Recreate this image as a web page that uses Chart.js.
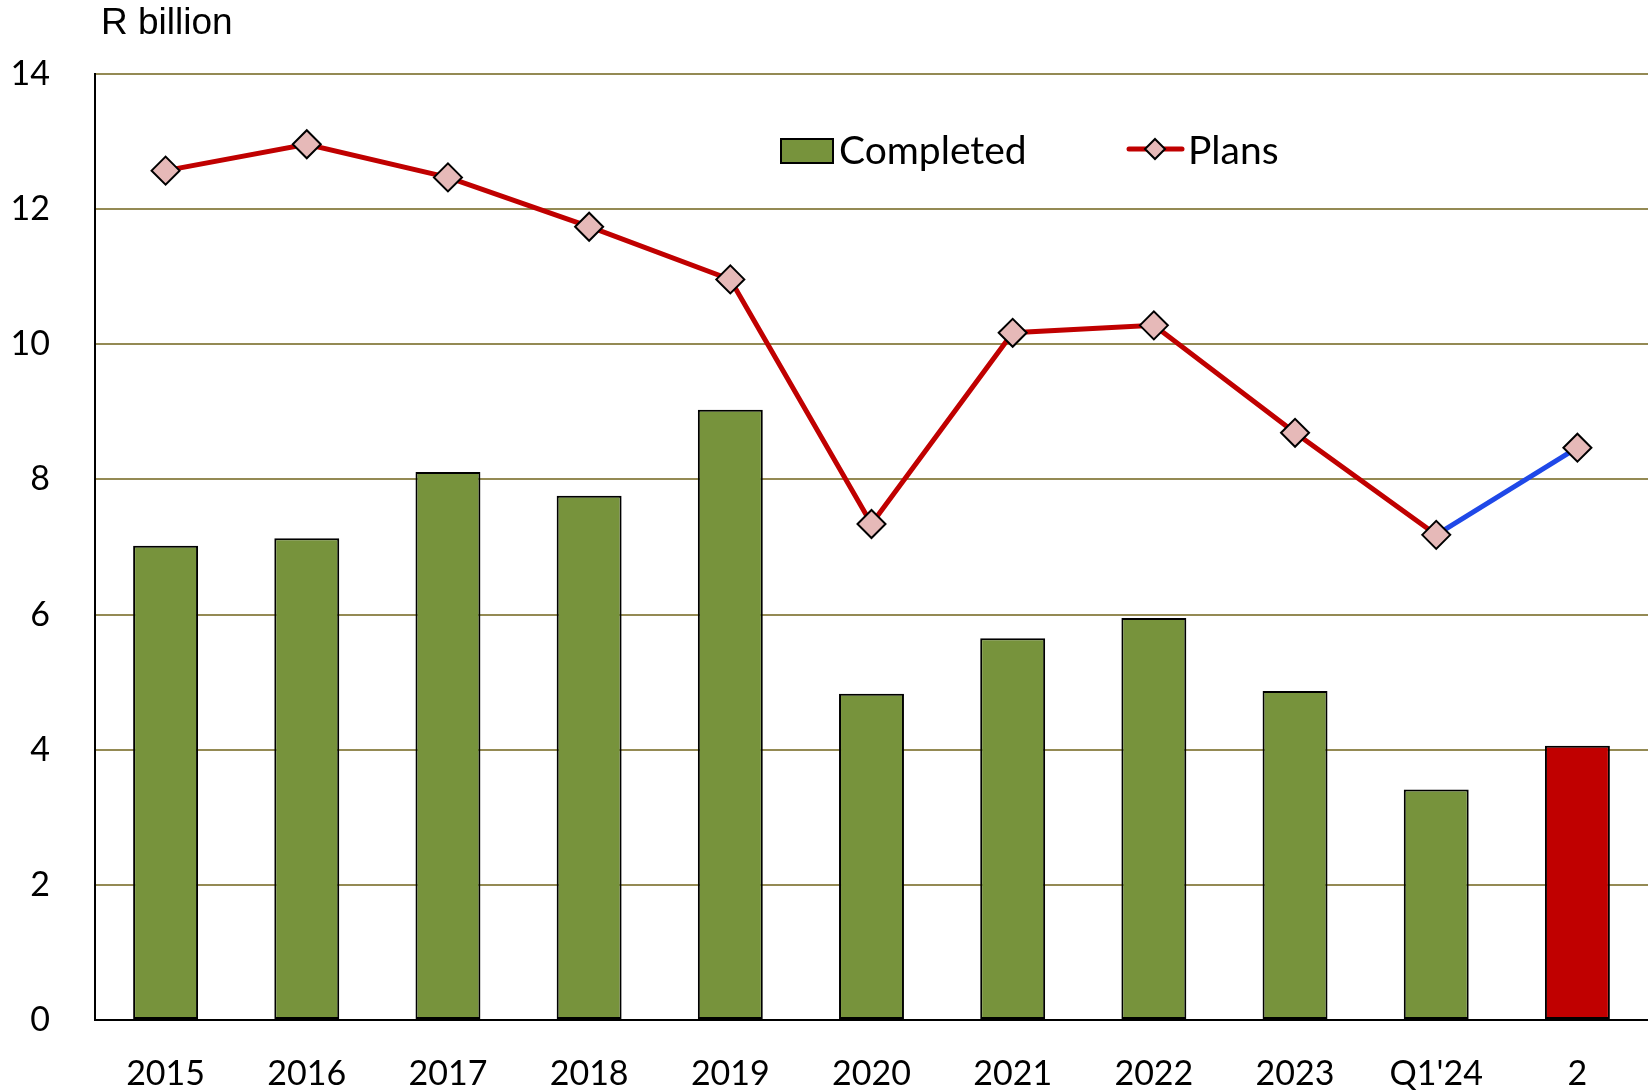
<!DOCTYPE html>
<html>
<head>
<meta charset="utf-8">
<script src="https://cdn.jsdelivr.net/npm/chart.js@4.4.1/dist/chart.umd.min.js"></script>
<style>
  html, body { margin: 0; padding: 0; background: #fff; overflow: hidden; }
  #wrap { width: 1648px; height: 1091px; position: relative; }
</style>
</head>
<body>
<div id="wrap"><canvas id="chart"></canvas></div>
<script>
// data
const categories = ["2015", "2016", "2017", "2018", "2019", "2020", "2021", "2022", "2023", "Q1'24", "2"];
const completed  = [7.02, 7.13, 8.11, 7.76, 9.03, 4.83, 5.65, 5.95, 4.87, 3.41, 4.06];
const plans      = [12.57, 12.96, 12.47, 11.74, 10.96, 7.34, 10.17, 10.28, 8.69, 7.18, 8.47];
const yTicks     = [0, 2, 4, 6, 8, 10, 12, 14];

const GREEN = "#77933C", RED = "#C00000", BLUE = "#1F48E8", PINK = "#E6B9B8", GRID = "#948A54";
const last = categories.length - 1;

// legend + unit label drawn by hand so the plot area is not pushed around
const overlay = {
  id: "overlay",
  afterDraw(chart) {
    const ctx = chart.ctx;
    ctx.save();
    ctx.fillStyle = "#000";
    ctx.font = "37px 'Liberation Sans', Arial, sans-serif";
    ctx.textBaseline = "alphabetic";
    ctx.textAlign = "left";
    ctx.fillText("R billion", 101, 34);

    // Completed
    ctx.fillStyle = GREEN;
    ctx.fillRect(781, 139, 52, 24);
    ctx.lineWidth = 2;
    ctx.strokeStyle = "#000";
    ctx.strokeRect(781, 139, 52, 24);
    ctx.fillStyle = "#000";
    ctx.font = "39px Lato, 'Open Sans', sans-serif";
    ctx.textBaseline = "middle";
    ctx.fillText("Completed", 839, 151);

    // Plans
    ctx.strokeStyle = RED;
    ctx.lineWidth = 5;
    ctx.lineCap = "round";
    ctx.beginPath();
    ctx.moveTo(1129, 149);
    ctx.lineTo(1182, 149);
    ctx.stroke();
    ctx.beginPath();
    ctx.moveTo(1155, 139); ctx.lineTo(1165, 149); ctx.lineTo(1155, 159); ctx.lineTo(1145, 149);
    ctx.closePath();
    ctx.fillStyle = PINK;
    ctx.fill();
    ctx.lineWidth = 2;
    ctx.strokeStyle = "#000";
    ctx.stroke();
    ctx.fillStyle = "#000";
    ctx.fillText("Plans", 1188, 151);
    ctx.restore();
  }
};

new Chart(document.getElementById("chart").getContext("2d"), {
  data: {
    labels: categories,
    datasets: [
      {
        type: "line",
        label: "Plans",
        data: plans,
        order: 0,
        borderColor: RED,
        borderWidth: 5,
        segment: { borderColor: ctx => ctx.p1DataIndex === last ? BLUE : RED },
        pointStyle: "rectRot",
        pointRadius: 14,
        pointBackgroundColor: PINK,
        pointBorderColor: "#000",
        pointBorderWidth: 2,
        tension: 0
      },
      {
        type: "bar",
        label: "Completed",
        data: completed,
        order: 1,
        backgroundColor: categories.map((_, i) => i === last ? RED : GREEN),
        borderColor: "#000",
        borderWidth: 2,
        borderSkipped: false,
        barPercentage: 0.46,
        categoryPercentage: 1
      }
    ]
  },
  options: {
    responsive: true, maintainAspectRatio: false, animation: false,
    layout: { autoPadding: false, padding: { top: 74, left: 0, right: 0, bottom: 0 } },
    plugins: { legend: { display: false }, tooltip: { enabled: false } },
    scales: {
      x: {
        grid: { display: false, drawTicks: false },
        border: { color: "#000", width: 2 },
        ticks: { color: "#000", font: { family: "Lato", size: 34 }, padding: 34, maxRotation: 0 },
        afterFit: s => { s.height = 71; s.paddingLeft = 0; s.paddingRight = 0; }
      },
      y: {
        min: 0, max: 14,
        afterBuildTicks: s => { s.ticks = yTicks.map(v => ({ value: v })); },
        grid: { color: GRID, lineWidth: 2, drawTicks: false },
        border: { color: "#000", width: 2 },
        ticks: { color: "#000", font: { family: "Lato", size: 34 }, padding: 45 },
        afterFit: s => { s.width = 95; }
      }
    }
  },
  plugins: [overlay]
});
</script>
</body>
</html>
